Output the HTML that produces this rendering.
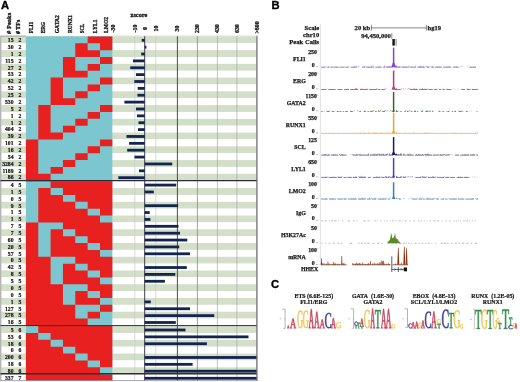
<!DOCTYPE html>
<html><head><meta charset="utf-8"><title>Figure</title>
<style>html,body{margin:0;padding:0;background:#fff;width:520px;height:382px;overflow:hidden}</style>
</head><body>
<svg width="520" height="382" viewBox="0 0 520 382" style="display:block;will-change:transform">
<rect width="520" height="382" fill="#fff"/>
<rect x="1.2" y="36.40" width="255.40" height="6.87" fill="#d4dfca"/>
<rect x="1.2" y="43.27" width="255.40" height="6.87" fill="#ffffff"/>
<rect x="1.2" y="50.14" width="255.40" height="6.87" fill="#d4dfca"/>
<rect x="1.2" y="57.01" width="255.40" height="6.87" fill="#ffffff"/>
<rect x="1.2" y="63.88" width="255.40" height="6.87" fill="#d4dfca"/>
<rect x="1.2" y="70.75" width="255.40" height="6.87" fill="#ffffff"/>
<rect x="1.2" y="77.62" width="255.40" height="6.87" fill="#d4dfca"/>
<rect x="1.2" y="84.49" width="255.40" height="6.87" fill="#ffffff"/>
<rect x="1.2" y="91.36" width="255.40" height="6.87" fill="#d4dfca"/>
<rect x="1.2" y="98.23" width="255.40" height="6.87" fill="#ffffff"/>
<rect x="1.2" y="105.10" width="255.40" height="6.87" fill="#d4dfca"/>
<rect x="1.2" y="111.97" width="255.40" height="6.87" fill="#ffffff"/>
<rect x="1.2" y="118.84" width="255.40" height="6.87" fill="#d4dfca"/>
<rect x="1.2" y="125.71" width="255.40" height="6.87" fill="#ffffff"/>
<rect x="1.2" y="132.58" width="255.40" height="6.87" fill="#d4dfca"/>
<rect x="1.2" y="139.45" width="255.40" height="6.87" fill="#ffffff"/>
<rect x="1.2" y="146.32" width="255.40" height="6.87" fill="#d4dfca"/>
<rect x="1.2" y="153.19" width="255.40" height="6.87" fill="#ffffff"/>
<rect x="1.2" y="160.06" width="255.40" height="6.87" fill="#d4dfca"/>
<rect x="1.2" y="166.93" width="255.40" height="6.87" fill="#ffffff"/>
<rect x="1.2" y="173.80" width="255.40" height="6.87" fill="#d4dfca"/>
<rect x="1.2" y="181.20" width="255.40" height="6.87" fill="#ffffff"/>
<rect x="1.2" y="188.07" width="255.40" height="6.87" fill="#d4dfca"/>
<rect x="1.2" y="194.94" width="255.40" height="6.87" fill="#ffffff"/>
<rect x="1.2" y="201.81" width="255.40" height="6.87" fill="#d4dfca"/>
<rect x="1.2" y="208.68" width="255.40" height="6.87" fill="#ffffff"/>
<rect x="1.2" y="215.55" width="255.40" height="6.87" fill="#d4dfca"/>
<rect x="1.2" y="222.42" width="255.40" height="6.87" fill="#ffffff"/>
<rect x="1.2" y="229.29" width="255.40" height="6.87" fill="#d4dfca"/>
<rect x="1.2" y="236.16" width="255.40" height="6.87" fill="#ffffff"/>
<rect x="1.2" y="243.03" width="255.40" height="6.87" fill="#d4dfca"/>
<rect x="1.2" y="249.90" width="255.40" height="6.87" fill="#ffffff"/>
<rect x="1.2" y="256.77" width="255.40" height="6.87" fill="#d4dfca"/>
<rect x="1.2" y="263.64" width="255.40" height="6.87" fill="#ffffff"/>
<rect x="1.2" y="270.51" width="255.40" height="6.87" fill="#d4dfca"/>
<rect x="1.2" y="277.38" width="255.40" height="6.87" fill="#ffffff"/>
<rect x="1.2" y="284.25" width="255.40" height="6.87" fill="#d4dfca"/>
<rect x="1.2" y="291.12" width="255.40" height="6.87" fill="#ffffff"/>
<rect x="1.2" y="297.99" width="255.40" height="6.87" fill="#d4dfca"/>
<rect x="1.2" y="304.86" width="255.40" height="6.87" fill="#ffffff"/>
<rect x="1.2" y="311.73" width="255.40" height="6.87" fill="#d4dfca"/>
<rect x="1.2" y="318.60" width="255.40" height="6.87" fill="#ffffff"/>
<rect x="1.2" y="326.10" width="255.40" height="6.87" fill="#d4dfca"/>
<rect x="1.2" y="332.97" width="255.40" height="6.87" fill="#ffffff"/>
<rect x="1.2" y="339.84" width="255.40" height="6.87" fill="#d4dfca"/>
<rect x="1.2" y="346.71" width="255.40" height="6.87" fill="#ffffff"/>
<rect x="1.2" y="353.58" width="255.40" height="6.87" fill="#d4dfca"/>
<rect x="1.2" y="360.45" width="255.40" height="6.87" fill="#ffffff"/>
<rect x="1.2" y="367.32" width="255.40" height="6.87" fill="#d4dfca"/>
<rect x="1.2" y="374.40" width="255.40" height="6.20" fill="#ffffff"/>
<rect x="25.9" y="36.3" width="86.45" height="344.50" fill="#7cc6d0"/>
<path d="M87.65,36.40h12.35v6.87h-12.35zM100.00,36.40h12.35v6.87h-12.35zM75.30,43.27h12.35v6.87h-12.35zM100.00,43.27h12.35v6.87h-12.35zM75.30,50.14h12.35v6.87h-12.35zM87.65,50.14h12.35v6.87h-12.35zM62.95,57.01h12.35v6.87h-12.35zM100.00,57.01h12.35v6.87h-12.35zM62.95,63.88h12.35v6.87h-12.35zM87.65,63.88h12.35v6.87h-12.35zM62.95,70.75h12.35v6.87h-12.35zM75.30,70.75h12.35v6.87h-12.35zM50.60,77.62h12.35v6.87h-12.35zM100.00,77.62h12.35v6.87h-12.35zM50.60,84.49h12.35v6.87h-12.35zM87.65,84.49h12.35v6.87h-12.35zM50.60,91.36h12.35v6.87h-12.35zM75.30,91.36h12.35v6.87h-12.35zM50.60,98.23h12.35v6.87h-12.35zM62.95,98.23h12.35v6.87h-12.35zM38.25,105.10h12.35v6.87h-12.35zM100.00,105.10h12.35v6.87h-12.35zM38.25,111.97h12.35v6.87h-12.35zM87.65,111.97h12.35v6.87h-12.35zM38.25,118.84h12.35v6.87h-12.35zM75.30,118.84h12.35v6.87h-12.35zM38.25,125.71h12.35v6.87h-12.35zM62.95,125.71h12.35v6.87h-12.35zM38.25,132.58h12.35v6.87h-12.35zM50.60,132.58h12.35v6.87h-12.35zM25.90,139.45h12.35v6.87h-12.35zM100.00,139.45h12.35v6.87h-12.35zM25.90,146.32h12.35v6.87h-12.35zM87.65,146.32h12.35v6.87h-12.35zM25.90,153.19h12.35v6.87h-12.35zM75.30,153.19h12.35v6.87h-12.35zM25.90,160.06h12.35v6.87h-12.35zM62.95,160.06h12.35v6.87h-12.35zM25.90,166.93h12.35v6.87h-12.35zM50.60,166.93h12.35v6.87h-12.35zM25.90,173.80h12.35v7.40h-12.35zM38.25,173.80h12.35v7.40h-12.35zM50.60,181.20h12.35v6.87h-12.35zM62.95,181.20h12.35v6.87h-12.35zM75.30,181.20h12.35v6.87h-12.35zM87.65,181.20h12.35v6.87h-12.35zM100.00,181.20h12.35v6.87h-12.35zM38.25,188.07h12.35v6.87h-12.35zM62.95,188.07h12.35v6.87h-12.35zM75.30,188.07h12.35v6.87h-12.35zM87.65,188.07h12.35v6.87h-12.35zM100.00,188.07h12.35v6.87h-12.35zM38.25,194.94h12.35v6.87h-12.35zM50.60,194.94h12.35v6.87h-12.35zM75.30,194.94h12.35v6.87h-12.35zM87.65,194.94h12.35v6.87h-12.35zM100.00,194.94h12.35v6.87h-12.35zM38.25,201.81h12.35v6.87h-12.35zM50.60,201.81h12.35v6.87h-12.35zM62.95,201.81h12.35v6.87h-12.35zM87.65,201.81h12.35v6.87h-12.35zM100.00,201.81h12.35v6.87h-12.35zM38.25,208.68h12.35v6.87h-12.35zM50.60,208.68h12.35v6.87h-12.35zM62.95,208.68h12.35v6.87h-12.35zM75.30,208.68h12.35v6.87h-12.35zM100.00,208.68h12.35v6.87h-12.35zM38.25,215.55h12.35v6.87h-12.35zM50.60,215.55h12.35v6.87h-12.35zM62.95,215.55h12.35v6.87h-12.35zM75.30,215.55h12.35v6.87h-12.35zM87.65,215.55h12.35v6.87h-12.35zM25.90,222.42h12.35v6.87h-12.35zM62.95,222.42h12.35v6.87h-12.35zM75.30,222.42h12.35v6.87h-12.35zM87.65,222.42h12.35v6.87h-12.35zM100.00,222.42h12.35v6.87h-12.35zM25.90,229.29h12.35v6.87h-12.35zM50.60,229.29h12.35v6.87h-12.35zM75.30,229.29h12.35v6.87h-12.35zM87.65,229.29h12.35v6.87h-12.35zM100.00,229.29h12.35v6.87h-12.35zM25.90,236.16h12.35v6.87h-12.35zM50.60,236.16h12.35v6.87h-12.35zM62.95,236.16h12.35v6.87h-12.35zM87.65,236.16h12.35v6.87h-12.35zM100.00,236.16h12.35v6.87h-12.35zM25.90,243.03h12.35v6.87h-12.35zM50.60,243.03h12.35v6.87h-12.35zM62.95,243.03h12.35v6.87h-12.35zM75.30,243.03h12.35v6.87h-12.35zM100.00,243.03h12.35v6.87h-12.35zM25.90,249.90h12.35v6.87h-12.35zM50.60,249.90h12.35v6.87h-12.35zM62.95,249.90h12.35v6.87h-12.35zM75.30,249.90h12.35v6.87h-12.35zM87.65,249.90h12.35v6.87h-12.35zM25.90,256.77h12.35v6.87h-12.35zM38.25,256.77h12.35v6.87h-12.35zM75.30,256.77h12.35v6.87h-12.35zM87.65,256.77h12.35v6.87h-12.35zM100.00,256.77h12.35v6.87h-12.35zM25.90,263.64h12.35v6.87h-12.35zM38.25,263.64h12.35v6.87h-12.35zM62.95,263.64h12.35v6.87h-12.35zM87.65,263.64h12.35v6.87h-12.35zM100.00,263.64h12.35v6.87h-12.35zM25.90,270.51h12.35v6.87h-12.35zM38.25,270.51h12.35v6.87h-12.35zM62.95,270.51h12.35v6.87h-12.35zM75.30,270.51h12.35v6.87h-12.35zM100.00,270.51h12.35v6.87h-12.35zM25.90,277.38h12.35v6.87h-12.35zM38.25,277.38h12.35v6.87h-12.35zM62.95,277.38h12.35v6.87h-12.35zM75.30,277.38h12.35v6.87h-12.35zM87.65,277.38h12.35v6.87h-12.35zM25.90,284.25h12.35v6.87h-12.35zM38.25,284.25h12.35v6.87h-12.35zM50.60,284.25h12.35v6.87h-12.35zM87.65,284.25h12.35v6.87h-12.35zM100.00,284.25h12.35v6.87h-12.35zM25.90,291.12h12.35v6.87h-12.35zM38.25,291.12h12.35v6.87h-12.35zM50.60,291.12h12.35v6.87h-12.35zM75.30,291.12h12.35v6.87h-12.35zM100.00,291.12h12.35v6.87h-12.35zM25.90,297.99h12.35v6.87h-12.35zM38.25,297.99h12.35v6.87h-12.35zM50.60,297.99h12.35v6.87h-12.35zM75.30,297.99h12.35v6.87h-12.35zM87.65,297.99h12.35v6.87h-12.35zM25.90,304.86h12.35v6.87h-12.35zM38.25,304.86h12.35v6.87h-12.35zM50.60,304.86h12.35v6.87h-12.35zM62.95,304.86h12.35v6.87h-12.35zM100.00,304.86h12.35v6.87h-12.35zM25.90,311.73h12.35v6.87h-12.35zM38.25,311.73h12.35v6.87h-12.35zM50.60,311.73h12.35v6.87h-12.35zM62.95,311.73h12.35v6.87h-12.35zM87.65,311.73h12.35v6.87h-12.35zM25.90,318.60h12.35v7.50h-12.35zM38.25,318.60h12.35v7.50h-12.35zM50.60,318.60h12.35v7.50h-12.35zM62.95,318.60h12.35v7.50h-12.35zM75.30,318.60h12.35v7.50h-12.35zM38.25,326.10h12.35v6.87h-12.35zM50.60,326.10h12.35v6.87h-12.35zM62.95,326.10h12.35v6.87h-12.35zM75.30,326.10h12.35v6.87h-12.35zM87.65,326.10h12.35v6.87h-12.35zM100.00,326.10h12.35v6.87h-12.35zM25.90,332.97h12.35v6.87h-12.35zM50.60,332.97h12.35v6.87h-12.35zM62.95,332.97h12.35v6.87h-12.35zM75.30,332.97h12.35v6.87h-12.35zM87.65,332.97h12.35v6.87h-12.35zM100.00,332.97h12.35v6.87h-12.35zM25.90,339.84h12.35v6.87h-12.35zM38.25,339.84h12.35v6.87h-12.35zM62.95,339.84h12.35v6.87h-12.35zM75.30,339.84h12.35v6.87h-12.35zM87.65,339.84h12.35v6.87h-12.35zM100.00,339.84h12.35v6.87h-12.35zM25.90,346.71h12.35v6.87h-12.35zM38.25,346.71h12.35v6.87h-12.35zM50.60,346.71h12.35v6.87h-12.35zM75.30,346.71h12.35v6.87h-12.35zM87.65,346.71h12.35v6.87h-12.35zM100.00,346.71h12.35v6.87h-12.35zM25.90,353.58h12.35v6.87h-12.35zM38.25,353.58h12.35v6.87h-12.35zM50.60,353.58h12.35v6.87h-12.35zM62.95,353.58h12.35v6.87h-12.35zM87.65,353.58h12.35v6.87h-12.35zM100.00,353.58h12.35v6.87h-12.35zM25.90,360.45h12.35v6.87h-12.35zM38.25,360.45h12.35v6.87h-12.35zM50.60,360.45h12.35v6.87h-12.35zM62.95,360.45h12.35v6.87h-12.35zM75.30,360.45h12.35v6.87h-12.35zM100.00,360.45h12.35v6.87h-12.35zM25.90,367.32h12.35v7.08h-12.35zM38.25,367.32h12.35v7.08h-12.35zM50.60,367.32h12.35v7.08h-12.35zM62.95,367.32h12.35v7.08h-12.35zM75.30,367.32h12.35v7.08h-12.35zM87.65,367.32h12.35v7.08h-12.35zM25.90,374.40h12.35v6.40h-12.35zM38.25,374.40h12.35v6.40h-12.35zM50.60,374.40h12.35v6.40h-12.35zM62.95,374.40h12.35v6.40h-12.35zM75.30,374.40h12.35v6.40h-12.35zM87.65,374.40h12.35v6.40h-12.35zM100.00,374.40h12.35v6.40h-12.35z" fill="#e8201f"/>
<line x1="134.8" y1="36" x2="134.8" y2="381" stroke="#c4c8d0" stroke-width="0.7"/>
<line x1="155.8" y1="36" x2="155.8" y2="381" stroke="#c4c8d0" stroke-width="0.7"/>
<line x1="177.4" y1="36" x2="177.4" y2="381" stroke="#3a3a3a" stroke-width="0.9"/>
<line x1="197.4" y1="36" x2="197.4" y2="381" stroke="#888c88" stroke-width="0.8"/>
<line x1="217.4" y1="36" x2="217.4" y2="381" stroke="#a0a4a0" stroke-width="0.65"/>
<line x1="236.9" y1="36" x2="236.9" y2="381" stroke="#a0a4a0" stroke-width="0.65"/>
<line x1="144.7" y1="36" x2="144.7" y2="381" stroke="#2a2a3a" stroke-width="0.9"/>
<line x1="256.90000000000003" y1="35.8" x2="256.90000000000003" y2="381" stroke="#808080" stroke-width="1.5"/>
<rect x="141.70" y="38.89" width="3.00" height="2.8" fill="#13244f"/>
<rect x="144.70" y="45.76" width="1.70" height="2.8" fill="#13244f"/>
<rect x="141.20" y="52.62" width="3.50" height="2.8" fill="#13244f"/>
<rect x="133.00" y="59.49" width="11.70" height="2.8" fill="#13244f"/>
<rect x="130.20" y="66.36" width="14.50" height="2.8" fill="#13244f"/>
<rect x="136.00" y="73.23" width="8.70" height="2.8" fill="#13244f"/>
<rect x="134.30" y="80.10" width="10.40" height="2.8" fill="#13244f"/>
<rect x="137.70" y="86.97" width="7.00" height="2.8" fill="#13244f"/>
<rect x="137.40" y="93.84" width="7.30" height="2.8" fill="#13244f"/>
<rect x="124.40" y="100.72" width="20.30" height="2.8" fill="#13244f"/>
<rect x="136.00" y="107.59" width="8.70" height="2.8" fill="#13244f"/>
<rect x="137.00" y="114.46" width="7.70" height="2.8" fill="#13244f"/>
<rect x="138.50" y="121.33" width="6.20" height="2.8" fill="#13244f"/>
<rect x="138.00" y="128.19" width="6.70" height="2.8" fill="#13244f"/>
<rect x="126.50" y="135.06" width="18.20" height="2.8" fill="#13244f"/>
<rect x="129.10" y="141.94" width="15.60" height="2.8" fill="#13244f"/>
<rect x="127.20" y="148.81" width="17.50" height="2.8" fill="#13244f"/>
<rect x="134.50" y="155.68" width="10.20" height="2.8" fill="#13244f"/>
<rect x="144.70" y="162.55" width="27.50" height="2.8" fill="#13244f"/>
<rect x="139.00" y="169.42" width="5.70" height="2.8" fill="#13244f"/>
<rect x="118.30" y="176.29" width="26.40" height="2.8" fill="#13244f"/>
<rect x="144.70" y="183.68" width="31.50" height="2.8" fill="#13244f"/>
<rect x="144.70" y="190.55" width="9.10" height="2.8" fill="#13244f"/>
<rect x="144.70" y="204.29" width="33.40" height="2.8" fill="#13244f"/>
<rect x="144.70" y="211.16" width="5.00" height="2.8" fill="#13244f"/>
<rect x="144.70" y="218.03" width="5.70" height="2.8" fill="#13244f"/>
<rect x="144.70" y="224.91" width="33.80" height="2.8" fill="#13244f"/>
<rect x="144.70" y="231.78" width="35.30" height="2.8" fill="#13244f"/>
<rect x="144.70" y="238.65" width="42.60" height="2.8" fill="#13244f"/>
<rect x="144.70" y="245.52" width="34.50" height="2.8" fill="#13244f"/>
<rect x="144.70" y="252.39" width="45.30" height="2.8" fill="#13244f"/>
<rect x="144.70" y="266.13" width="42.10" height="2.8" fill="#13244f"/>
<rect x="144.70" y="273.00" width="30.60" height="2.8" fill="#13244f"/>
<rect x="144.70" y="279.87" width="20.20" height="2.8" fill="#13244f"/>
<rect x="144.70" y="300.48" width="6.10" height="2.8" fill="#13244f"/>
<rect x="144.70" y="307.35" width="45.30" height="2.8" fill="#13244f"/>
<rect x="144.70" y="314.22" width="69.60" height="2.8" fill="#13244f"/>
<rect x="144.70" y="321.09" width="31.10" height="2.8" fill="#13244f"/>
<rect x="144.70" y="328.59" width="40.80" height="2.8" fill="#13244f"/>
<rect x="144.70" y="335.46" width="103.80" height="2.8" fill="#13244f"/>
<rect x="144.70" y="342.33" width="62.20" height="2.8" fill="#13244f"/>
<rect x="144.70" y="356.07" width="111.80" height="2.8" fill="#13244f"/>
<rect x="144.70" y="362.94" width="47.90" height="2.8" fill="#13244f"/>
<rect x="144.70" y="369.81" width="111.80" height="2.8" fill="#13244f"/>
<rect x="144.70" y="376.88" width="111.80" height="2.8" fill="#13244f"/>
<line x1="0" y1="36.1" x2="25.9" y2="36.1" stroke="#8f8f8f" stroke-width="0.9"/>
<line x1="112.35" y1="36.0" x2="257.20000000000005" y2="36.0" stroke="#c8ccc4" stroke-width="0.6"/>
<line x1="0.7" y1="36" x2="0.7" y2="381" stroke="#b4b4b4" stroke-width="1.4"/>
<line x1="0.5" y1="180.6" x2="256.6" y2="180.6" stroke="#2b2b3b" stroke-width="1.1"/>
<line x1="0.5" y1="325.6" x2="256.6" y2="325.6" stroke="#2b2b3b" stroke-width="1.0"/>
<line x1="0.5" y1="373.8" x2="256.6" y2="373.8" stroke="#2b2b3b" stroke-width="1.5"/>
<line x1="0.5" y1="380.6" x2="256.6" y2="380.6" stroke="#9090a0" stroke-width="0.8"/>
<g style="font-family:'Liberation Serif',serif;font-weight:bold;font-size:6.6px" fill="#141414" stroke="#141414" stroke-width="0.22">
<text transform="translate(13.5,42.09) scale(0.86,1)" text-anchor="end">15</text>
<text transform="translate(19.9,42.09) scale(0.86,1)" text-anchor="middle">2</text>
<text transform="translate(13.5,48.95) scale(0.86,1)" text-anchor="end">30</text>
<text transform="translate(19.9,48.95) scale(0.86,1)" text-anchor="middle">2</text>
<text transform="translate(13.5,55.82) scale(0.86,1)" text-anchor="end">1</text>
<text transform="translate(19.9,55.82) scale(0.86,1)" text-anchor="middle">2</text>
<text transform="translate(13.5,62.69) scale(0.86,1)" text-anchor="end">115</text>
<text transform="translate(19.9,62.69) scale(0.86,1)" text-anchor="middle">2</text>
<text transform="translate(13.5,69.56) scale(0.86,1)" text-anchor="end">27</text>
<text transform="translate(19.9,69.56) scale(0.86,1)" text-anchor="middle">2</text>
<text transform="translate(13.5,76.43) scale(0.86,1)" text-anchor="end">53</text>
<text transform="translate(19.9,76.43) scale(0.86,1)" text-anchor="middle">2</text>
<text transform="translate(13.5,83.30) scale(0.86,1)" text-anchor="end">42</text>
<text transform="translate(19.9,83.30) scale(0.86,1)" text-anchor="middle">2</text>
<text transform="translate(13.5,90.17) scale(0.86,1)" text-anchor="end">52</text>
<text transform="translate(19.9,90.17) scale(0.86,1)" text-anchor="middle">2</text>
<text transform="translate(13.5,97.05) scale(0.86,1)" text-anchor="end">25</text>
<text transform="translate(19.9,97.05) scale(0.86,1)" text-anchor="middle">2</text>
<text transform="translate(13.5,103.92) scale(0.86,1)" text-anchor="end">530</text>
<text transform="translate(19.9,103.92) scale(0.86,1)" text-anchor="middle">2</text>
<text transform="translate(13.5,110.79) scale(0.86,1)" text-anchor="end">5</text>
<text transform="translate(19.9,110.79) scale(0.86,1)" text-anchor="middle">2</text>
<text transform="translate(13.5,117.66) scale(0.86,1)" text-anchor="end">1</text>
<text transform="translate(19.9,117.66) scale(0.86,1)" text-anchor="middle">2</text>
<text transform="translate(13.5,124.53) scale(0.86,1)" text-anchor="end">1</text>
<text transform="translate(19.9,124.53) scale(0.86,1)" text-anchor="middle">2</text>
<text transform="translate(13.5,131.40) scale(0.86,1)" text-anchor="end">404</text>
<text transform="translate(19.9,131.40) scale(0.86,1)" text-anchor="middle">2</text>
<text transform="translate(13.5,138.27) scale(0.86,1)" text-anchor="end">39</text>
<text transform="translate(19.9,138.27) scale(0.86,1)" text-anchor="middle">2</text>
<text transform="translate(13.5,145.14) scale(0.86,1)" text-anchor="end">101</text>
<text transform="translate(19.9,145.14) scale(0.86,1)" text-anchor="middle">2</text>
<text transform="translate(13.5,152.01) scale(0.86,1)" text-anchor="end">16</text>
<text transform="translate(19.9,152.01) scale(0.86,1)" text-anchor="middle">2</text>
<text transform="translate(13.5,158.88) scale(0.86,1)" text-anchor="end">54</text>
<text transform="translate(19.9,158.88) scale(0.86,1)" text-anchor="middle">2</text>
<text transform="translate(13.5,165.75) scale(0.86,1)" text-anchor="end">3284</text>
<text transform="translate(19.9,165.75) scale(0.86,1)" text-anchor="middle">2</text>
<text transform="translate(13.5,172.62) scale(0.86,1)" text-anchor="end">1189</text>
<text transform="translate(19.9,172.62) scale(0.86,1)" text-anchor="middle">2</text>
<text transform="translate(13.5,179.49) scale(0.86,1)" text-anchor="end">86</text>
<text transform="translate(19.9,179.49) scale(0.86,1)" text-anchor="middle">2</text>
<text transform="translate(13.5,186.88) scale(0.86,1)" text-anchor="end">4</text>
<text transform="translate(19.9,186.88) scale(0.86,1)" text-anchor="middle">5</text>
<text transform="translate(13.5,193.75) scale(0.86,1)" text-anchor="end">1</text>
<text transform="translate(19.9,193.75) scale(0.86,1)" text-anchor="middle">5</text>
<text transform="translate(13.5,200.62) scale(0.86,1)" text-anchor="end">0</text>
<text transform="translate(19.9,200.62) scale(0.86,1)" text-anchor="middle">5</text>
<text transform="translate(13.5,207.50) scale(0.86,1)" text-anchor="end">9</text>
<text transform="translate(19.9,207.50) scale(0.86,1)" text-anchor="middle">5</text>
<text transform="translate(13.5,214.37) scale(0.86,1)" text-anchor="end">1</text>
<text transform="translate(19.9,214.37) scale(0.86,1)" text-anchor="middle">5</text>
<text transform="translate(13.5,221.24) scale(0.86,1)" text-anchor="end">1</text>
<text transform="translate(19.9,221.24) scale(0.86,1)" text-anchor="middle">5</text>
<text transform="translate(13.5,228.11) scale(0.86,1)" text-anchor="end">7</text>
<text transform="translate(19.9,228.11) scale(0.86,1)" text-anchor="middle">5</text>
<text transform="translate(13.5,234.98) scale(0.86,1)" text-anchor="end">7</text>
<text transform="translate(19.9,234.98) scale(0.86,1)" text-anchor="middle">5</text>
<text transform="translate(13.5,241.85) scale(0.86,1)" text-anchor="end">60</text>
<text transform="translate(19.9,241.85) scale(0.86,1)" text-anchor="middle">5</text>
<text transform="translate(13.5,248.72) scale(0.86,1)" text-anchor="end">20</text>
<text transform="translate(19.9,248.72) scale(0.86,1)" text-anchor="middle">5</text>
<text transform="translate(13.5,255.59) scale(0.86,1)" text-anchor="end">57</text>
<text transform="translate(19.9,255.59) scale(0.86,1)" text-anchor="middle">5</text>
<text transform="translate(13.5,262.46) scale(0.86,1)" text-anchor="end">0</text>
<text transform="translate(19.9,262.46) scale(0.86,1)" text-anchor="middle">5</text>
<text transform="translate(13.5,269.33) scale(0.86,1)" text-anchor="end">42</text>
<text transform="translate(19.9,269.33) scale(0.86,1)" text-anchor="middle">5</text>
<text transform="translate(13.5,276.20) scale(0.86,1)" text-anchor="end">8</text>
<text transform="translate(19.9,276.20) scale(0.86,1)" text-anchor="middle">5</text>
<text transform="translate(13.5,283.07) scale(0.86,1)" text-anchor="end">5</text>
<text transform="translate(19.9,283.07) scale(0.86,1)" text-anchor="middle">5</text>
<text transform="translate(13.5,289.94) scale(0.86,1)" text-anchor="end">0</text>
<text transform="translate(19.9,289.94) scale(0.86,1)" text-anchor="middle">5</text>
<text transform="translate(13.5,296.81) scale(0.86,1)" text-anchor="end">0</text>
<text transform="translate(19.9,296.81) scale(0.86,1)" text-anchor="middle">5</text>
<text transform="translate(13.5,303.68) scale(0.86,1)" text-anchor="end">1</text>
<text transform="translate(19.9,303.68) scale(0.86,1)" text-anchor="middle">5</text>
<text transform="translate(13.5,310.55) scale(0.86,1)" text-anchor="end">127</text>
<text transform="translate(19.9,310.55) scale(0.86,1)" text-anchor="middle">5</text>
<text transform="translate(13.5,317.42) scale(0.86,1)" text-anchor="end">278</text>
<text transform="translate(19.9,317.42) scale(0.86,1)" text-anchor="middle">5</text>
<text transform="translate(13.5,324.29) scale(0.86,1)" text-anchor="end">16</text>
<text transform="translate(19.9,324.29) scale(0.86,1)" text-anchor="middle">5</text>
<text transform="translate(13.5,331.79) scale(0.86,1)" text-anchor="end">5</text>
<text transform="translate(19.9,331.79) scale(0.86,1)" text-anchor="middle">6</text>
<text transform="translate(13.5,338.66) scale(0.86,1)" text-anchor="end">53</text>
<text transform="translate(19.9,338.66) scale(0.86,1)" text-anchor="middle">6</text>
<text transform="translate(13.5,345.53) scale(0.86,1)" text-anchor="end">18</text>
<text transform="translate(19.9,345.53) scale(0.86,1)" text-anchor="middle">6</text>
<text transform="translate(13.5,352.40) scale(0.86,1)" text-anchor="end">0</text>
<text transform="translate(19.9,352.40) scale(0.86,1)" text-anchor="middle">6</text>
<text transform="translate(13.5,359.27) scale(0.86,1)" text-anchor="end">200</text>
<text transform="translate(19.9,359.27) scale(0.86,1)" text-anchor="middle">6</text>
<text transform="translate(13.5,366.14) scale(0.86,1)" text-anchor="end">18</text>
<text transform="translate(19.9,366.14) scale(0.86,1)" text-anchor="middle">6</text>
<text transform="translate(13.5,373.01) scale(0.86,1)" text-anchor="end">80</text>
<text transform="translate(19.9,373.01) scale(0.86,1)" text-anchor="middle">6</text>
<text transform="translate(13.5,380.08) scale(0.86,1)" text-anchor="end">337</text>
<text transform="translate(19.9,380.08) scale(0.86,1)" text-anchor="middle">7</text>
</g>
<g style="font-family:'Liberation Serif',serif;font-weight:bold" fill="#141414" stroke="#141414" stroke-width="0.3">
<text transform="translate(10.50,34.00) rotate(-90)" style="font-size:6.1px" textLength="21.30" lengthAdjust="spacingAndGlyphs"># Peaks</text>
<text transform="translate(20.20,34.00) rotate(-90)" style="font-size:6.1px" textLength="14.20" lengthAdjust="spacingAndGlyphs"># TFs</text>
<text transform="translate(33.20,33.30) rotate(-90)" style="font-size:6.1px" textLength="11.40" lengthAdjust="spacingAndGlyphs">FLI1</text>
<text transform="translate(45.30,33.30) rotate(-90)" style="font-size:6.1px" textLength="11.40" lengthAdjust="spacingAndGlyphs">ERG</text>
<text transform="translate(58.50,33.30) rotate(-90)" style="font-size:6.1px" textLength="18.20" lengthAdjust="spacingAndGlyphs">GATA2</text>
<text transform="translate(72.20,33.00) rotate(-90)" style="font-size:6.1px" textLength="17.90" lengthAdjust="spacingAndGlyphs">RUNX1</text>
<text transform="translate(83.50,33.20) rotate(-90)" style="font-size:6.1px" textLength="9.40" lengthAdjust="spacingAndGlyphs">SCL</text>
<text transform="translate(96.60,33.20) rotate(-90)" style="font-size:6.1px" textLength="13.70" lengthAdjust="spacingAndGlyphs">LYL1</text>
<text transform="translate(107.80,33.00) rotate(-90)" style="font-size:6.1px" textLength="16.00" lengthAdjust="spacingAndGlyphs">LMO2</text>
<text transform="translate(115.40,28.60) rotate(-90)" text-anchor="middle" style="font-size:5.9px" >-30</text>
<text transform="translate(136.80,28.60) rotate(-90)" text-anchor="middle" style="font-size:5.9px" >-10</text>
<text transform="translate(146.70,28.60) rotate(-90)" text-anchor="middle" style="font-size:5.9px" >0</text>
<text transform="translate(157.80,28.60) rotate(-90)" text-anchor="middle" style="font-size:5.9px" >10</text>
<text transform="translate(179.30,28.60) rotate(-90)" text-anchor="middle" style="font-size:5.9px" >30</text>
<text transform="translate(199.00,28.60) rotate(-90)" text-anchor="middle" style="font-size:5.9px" >230</text>
<text transform="translate(219.30,28.60) rotate(-90)" text-anchor="middle" style="font-size:5.9px" >430</text>
<text transform="translate(239.00,28.60) rotate(-90)" text-anchor="middle" style="font-size:5.9px" >630</text>
<text transform="translate(258.50,27.40) rotate(-90)" text-anchor="middle" style="font-size:5.9px" >&gt;800</text>
<text x="130.6" y="17.2" style="font-size:6.3px">zscore</text>
</g>
<text x="1.0" y="8.8" style="font-family:'Liberation Sans',sans-serif;font-weight:bold;font-size:11.2px" fill="#000" stroke="#000" stroke-width="0.35">A</text>
<text x="271.5" y="9.0" style="font-family:'Liberation Sans',sans-serif;font-weight:bold;font-size:11.2px" fill="#000" stroke="#000" stroke-width="0.35">B</text>
<g style="font-family:'Liberation Serif',serif;font-weight:bold;font-size:6.6px" fill="#1a1a1a" stroke="#1a1a1a" stroke-width="0.25">
<text x="319.2" y="29.6" text-anchor="end">Scale</text>
<text x="319.2" y="37.3" text-anchor="end">chr10</text>
<text x="319.2" y="43.8" text-anchor="end">Peak Calls</text>
<text x="370.2" y="29.6" text-anchor="end">20 kb</text>
<text x="427.6" y="29.6">hg19</text>
<text x="390.9" y="37.8" text-anchor="end">94,450,000</text>
</g>
<g stroke="#333" stroke-width="0.6" fill="none">
<line x1="371.4" y1="27.9" x2="426.3" y2="27.9"/><line x1="371.4" y1="24.8" x2="371.4" y2="30.6"/><line x1="426.3" y1="24.8" x2="426.3" y2="30.6"/>
<line x1="391.8" y1="33" x2="391.8" y2="38.7"/>
<line x1="396.1" y1="39.0" x2="396.1" y2="45.6"/>
</g>
<rect x="392.4" y="39.0" width="2.4" height="6.6" fill="#111"/>
<line x1="320.4" y1="23.8" x2="320.4" y2="265" stroke="#dcd8e0" stroke-width="0.8"/>
<g style="font-family:'Liberation Serif',serif;font-weight:bold;font-size:5.9px" fill="#1a1a1a" stroke="#1a1a1a" stroke-width="0.25">
<text x="317.0" y="53.80" text-anchor="end">250</text>
<text x="305.8" y="60.90" text-anchor="end">FLI1</text>
<text x="314.8" y="66.70" text-anchor="end">0</text>
<text x="317.0" y="76.10" text-anchor="end">200</text>
<text x="305.8" y="83.20" text-anchor="end">ERG</text>
<text x="314.8" y="89.00" text-anchor="end">0</text>
<text x="317.0" y="98.10" text-anchor="end">1150</text>
<text x="305.8" y="105.20" text-anchor="end">GATA2</text>
<text x="314.8" y="111.00" text-anchor="end">0</text>
<text x="317.0" y="120.05" text-anchor="end">550</text>
<text x="305.8" y="127.15" text-anchor="end">RUNX1</text>
<text x="314.8" y="132.95" text-anchor="end">0</text>
<text x="317.0" y="141.70" text-anchor="end">125</text>
<text x="305.8" y="148.80" text-anchor="end">SCL</text>
<text x="314.8" y="154.60" text-anchor="end">0</text>
<text x="317.0" y="164.05" text-anchor="end">650</text>
<text x="305.8" y="171.15" text-anchor="end">LYL1</text>
<text x="314.8" y="176.95" text-anchor="end">0</text>
<text x="317.0" y="185.70" text-anchor="end">100</text>
<text x="305.8" y="192.80" text-anchor="end">LMO2</text>
<text x="314.8" y="198.60" text-anchor="end">0</text>
<text x="317.0" y="207.50" text-anchor="end">50</text>
<text x="305.8" y="214.60" text-anchor="end">IgG</text>
<text x="314.8" y="220.40" text-anchor="end">0</text>
<text x="317.0" y="229.85" text-anchor="end">50</text>
<text x="305.8" y="236.95" text-anchor="end">H3K27Ac</text>
<text x="314.8" y="242.75" text-anchor="end">0</text>
<text x="317.0" y="251.60" text-anchor="end">100</text>
<text x="305.8" y="258.70" text-anchor="end">mRNA</text>
<text x="314.8" y="264.50" text-anchor="end">0</text>
<text x="318.3" y="270.8" text-anchor="end">HHEX</text>
</g>
<g stroke="#666" stroke-width="0.4">
<line x1="316.0" y1="66.60" x2="318.4" y2="66.60"/>
<line x1="317.4" y1="50.80" x2="318.6" y2="50.80"/>
<line x1="316.0" y1="88.90" x2="318.4" y2="88.90"/>
<line x1="317.4" y1="73.10" x2="318.6" y2="73.10"/>
<line x1="316.0" y1="110.90" x2="318.4" y2="110.90"/>
<line x1="317.4" y1="95.10" x2="318.6" y2="95.10"/>
<line x1="316.0" y1="132.85" x2="318.4" y2="132.85"/>
<line x1="317.4" y1="117.05" x2="318.6" y2="117.05"/>
<line x1="316.0" y1="154.50" x2="318.4" y2="154.50"/>
<line x1="317.4" y1="138.70" x2="318.6" y2="138.70"/>
<line x1="316.0" y1="176.85" x2="318.4" y2="176.85"/>
<line x1="317.4" y1="161.05" x2="318.6" y2="161.05"/>
<line x1="316.0" y1="198.50" x2="318.4" y2="198.50"/>
<line x1="317.4" y1="182.70" x2="318.6" y2="182.70"/>
<line x1="316.0" y1="220.30" x2="318.4" y2="220.30"/>
<line x1="317.4" y1="204.50" x2="318.6" y2="204.50"/>
<line x1="316.0" y1="242.65" x2="318.4" y2="242.65"/>
<line x1="317.4" y1="226.85" x2="318.6" y2="226.85"/>
<line x1="316.0" y1="264.40" x2="318.4" y2="264.40"/>
<line x1="317.4" y1="248.60" x2="318.6" y2="248.60"/>
</g>
<path d="M321.3,67.20H325.6M327.1,67.20H329.6M330.7,67.20H333.1M333.8,67.20H338.8M339.5,67.20H344.5M345.3,67.20H348.8M350.8,67.20H356.8M362.1,67.20H365.1M366.1,67.20H373.8M375.3,67.20H381.7M383.1,67.20H385.5M386.4,67.20H393.2M394.2,67.20H400.3M401.3,67.20H408.9M409.9,67.20H415.9M417.7,67.20H424.8M426.8,67.20H429.6M431.3,67.20H434.3M435.0,67.20H441.7M443.1,67.20H451.2M452.8,67.20H458.9M469.3,67.20H476.0" stroke="#6e6482" stroke-width="0.9" fill="none" opacity="0.85"/>
<path d="M323.3,67.10V66.50M326.1,67.10V66.41M328.7,67.10V66.32M331.4,67.10V66.30M333.7,67.10V66.32M336.4,67.10V66.30M345.4,67.10V66.59M347.9,67.10V66.48M349.7,67.10V66.54M354.1,67.10V65.85M356.5,67.10V65.82M358.0,67.10V66.46M359.0,67.10V66.09M364.3,67.10V66.52M365.1,67.10V65.70M368.3,67.10V66.54M372.0,67.10V65.51M373.7,67.10V66.33M379.2,67.10V65.58M384.5,67.10V65.53M386.8,67.10V65.99M388.1,67.10V66.51M389.2,67.10V65.86M391.0,67.10V65.85M394.6,67.10V65.52M396.9,67.10V65.81M399.2,67.10V65.92M400.4,67.10V66.27M404.0,67.10V65.99M406.5,67.10V66.38M409.0,67.10V65.52M411.5,67.10V66.52M415.8,67.10V65.66M418.1,67.10V66.33M420.1,67.10V65.82M421.0,67.10V66.04M423.5,67.10V65.85M425.6,67.10V66.34M426.7,67.10V65.84M428.1,67.10V65.82M430.7,67.10V66.47M432.2,67.10V65.59M437.8,67.10V66.37M438.8,67.10V66.36M441.4,67.10V66.51M446.4,67.10V66.52M448.2,67.10V66.26M449.7,67.10V66.32M454.5,67.10V66.57M456.8,67.10V66.28M460.1,67.10V66.29M461.7,67.10V66.27M467.5,67.10V66.38M470.7,67.10V66.60M473.9,67.10V66.39M474.9,67.10V66.60" stroke="#8446cc" stroke-width="0.6" fill="none" opacity="0.8"/>
<rect x="392.85" y="47.70" width="1.5" height="19.40" fill="#8446cc"/>
<path d="M391.40,67.10 L392.90,62.60 L394.30,62.60 L396.10,67.10Z" fill="#8446cc"/>
<path d="M395.9,67.10L396.4,65.30L397.0,67.10Z" fill="#8446cc"/>
<path d="M321.3,89.50H326.3M328.2,89.50H335.7M337.3,89.50H342.4M344.1,89.50H348.9M350.3,89.50H358.0M360.0,89.50H367.7M369.2,89.50H376.9M377.9,89.50H380.6M381.5,89.50H385.0M394.4,89.50H400.7M410.1,89.50H417.8M419.3,89.50H427.3M428.3,89.50H432.9M434.2,89.50H437.3M439.1,89.50H441.3M442.7,89.50H444.8M446.5,89.50H451.5M461.4,89.50H465.0M466.9,89.50H470.5M471.9,89.50H478.0" stroke="#6a5a66" stroke-width="0.9" fill="none" opacity="0.85"/>
<path d="M324.3,89.40V88.89M327.2,89.40V88.78M331.3,89.40V88.83M348.0,89.40V88.72M352.1,89.40V88.74M355.5,89.40V87.90M356.5,89.40V88.09M358.1,89.40V88.61M360.4,89.40V88.77M362.1,89.40V88.30M364.7,89.40V88.85M367.0,89.40V88.27M368.9,89.40V88.75M376.9,89.40V88.01M385.9,89.40V87.84M393.2,89.40V88.64M401.4,89.40V88.46M403.2,89.40V88.20M405.2,89.40V88.25M407.5,89.40V88.78M408.9,89.40V87.82M410.0,89.40V88.24M414.3,89.40V87.97M416.2,89.40V88.23M420.2,89.40V88.59M422.5,89.40V88.11M424.8,89.40V88.47M427.2,89.40V88.31M433.8,89.40V88.90M435.8,89.40V88.84M438.6,89.40V88.68M442.5,89.40V88.81M443.4,89.40V88.74M446.0,89.40V88.74M447.1,89.40V88.73M453.2,89.40V88.71M455.1,89.40V88.82M457.3,89.40V88.73M458.7,89.40V88.89M460.8,89.40V88.80M462.8,89.40V88.79M466.8,89.40V88.60M468.0,89.40V88.52M472.1,89.40V88.66" stroke="#b83a7e" stroke-width="0.6" fill="none" opacity="0.8"/>
<rect x="392.85" y="70.50" width="1.5" height="18.90" fill="#b83a7e"/>
<path d="M391.60,89.40 L392.90,86.40 L394.30,86.40 L395.90,89.40Z" fill="#b83a7e"/>
<path d="M395.9,89.40L396.4,87.60L397.0,89.40Z" fill="#b83a7e"/>
<path d="M321.3,111.50H322.6M326.7,111.50H329.3M331.8,111.50H334.2M336.8,111.50H338.7M339.5,111.50H341.3M342.7,111.50H343.9M345.3,111.50H347.9M350.2,111.50H352.9M359.3,111.50H360.9M363.7,111.50H365.8M367.5,111.50H368.9M369.9,111.50H372.5M375.2,111.50H376.5M378.3,111.50H379.6M382.3,111.50H385.0M391.8,111.50H394.2M396.4,111.50H398.2M400.3,111.50H401.7M404.4,111.50H405.5M407.0,111.50H408.4M411.2,111.50H412.5M413.9,111.50H416.0M417.1,111.50H418.3M420.9,111.50H422.8M425.4,111.50H428.4M429.5,111.50H430.7M432.2,111.50H433.2M438.8,111.50H440.5M442.4,111.50H444.0M447.4,111.50H449.3M451.8,111.50H453.1M454.4,111.50H456.1M458.8,111.50H461.5M462.3,111.50H463.2M465.8,111.50H467.6M476.5,111.50H477.5" stroke="#5e625e" stroke-width="0.9" fill="none" opacity="0.85"/>
<path d="M321.8,111.40V110.79M324.3,111.40V110.75M326.3,111.40V110.71M328.8,111.40V110.70M330.0,111.40V110.57M334.9,111.40V110.77M337.7,111.40V110.88M344.9,111.40V110.82M351.0,111.40V110.77M354.1,111.40V110.32M357.7,111.40V109.92M360.3,111.40V110.73M364.5,111.40V110.22M372.3,111.40V110.18M373.6,111.40V109.88M376.5,111.40V110.73M378.5,111.40V109.88M379.6,111.40V110.77M380.7,111.40V109.84M382.7,111.40V110.77M385.1,111.40V109.99M387.2,111.40V109.80M389.7,111.40V110.87M390.8,111.40V109.90M395.0,111.40V110.79M396.5,111.40V110.87M398.9,111.40V110.84M405.4,111.40V110.09M407.6,111.40V110.71M408.5,111.40V110.64M410.0,111.40V109.93M411.1,111.40V110.82M415.1,111.40V110.10M422.7,111.40V109.96M426.7,111.40V110.41M428.0,111.40V110.25M430.1,111.40V110.19M432.6,111.40V110.39M438.8,111.40V110.54M446.6,111.40V110.74M448.9,111.40V110.70M455.5,111.40V110.72M459.0,111.40V110.52M461.4,111.40V110.51M468.9,111.40V110.79M471.0,111.40V110.64" stroke="#2f662f" stroke-width="0.6" fill="none" opacity="0.8"/>
<rect x="392.85" y="92.00" width="1.5" height="19.40" fill="#2f662f"/>
<path d="M392.70,111.40 L392.90,109.90 L394.30,109.90 L394.80,111.40Z" fill="#2f662f"/>
<path d="M395.9,111.40L396.4,109.60L397.0,111.40Z" fill="#2f662f"/>
<path d="M321.3,133.45H357.3M357.5,133.45H392.1M392.5,133.45H432.3M432.8,133.45H478.0" stroke="#e6b84e" stroke-width="0.9" fill="none" opacity="0.85"/>
<path d="M321.8,133.35V132.76M326.0,133.35V132.61M328.4,133.35V132.53M332.8,133.35V132.83M338.9,133.35V132.65M343.3,133.35V132.79M346.8,133.35V132.81M355.2,133.35V132.47M357.6,133.35V132.47M360.6,133.35V132.24M363.5,133.35V131.82M364.9,133.35V132.44M366.3,133.35V132.68M368.7,133.35V131.76M373.1,133.35V131.91M374.6,133.35V132.04M376.2,133.35V131.94M378.6,133.35V132.47M380.6,133.35V131.89M381.5,133.35V132.35M383.0,133.35V132.54M385.8,133.35V131.87M386.8,133.35V132.57M389.1,133.35V131.80M392.7,133.35V131.79M396.8,133.35V132.73M399.3,133.35V132.36M405.3,133.35V132.00M408.8,133.35V132.71M410.5,133.35V132.74M413.6,133.35V131.91M414.5,133.35V132.45M420.9,133.35V132.47M424.4,133.35V132.42M425.9,133.35V132.30M427.5,133.35V132.65M428.4,133.35V132.36M432.2,133.35V132.10M443.3,133.35V132.65M451.6,133.35V132.45M453.7,133.35V132.62M454.8,133.35V132.47M456.5,133.35V132.49M461.2,133.35V132.51M470.6,133.35V132.52M475.5,133.35V132.51M477.5,133.35V132.54" stroke="#eca43a" stroke-width="0.6" fill="none" opacity="0.8"/>
<rect x="392.85" y="112.75" width="1.5" height="20.60" fill="#eca43a"/>
<path d="M392.10,133.35 L392.90,130.85 L394.30,130.85 L395.40,133.35Z" fill="#eca43a"/>
<path d="M395.9,133.35L396.4,131.55L397.0,133.35Z" fill="#eca43a"/>
<path d="M321.3,155.10H329.8M330.8,155.10H338.3M339.7,155.10H346.5M352.8,155.10H358.5M359.3,155.10H369.2M370.1,155.10H378.5M379.1,155.10H387.3M388.7,155.10H393.4M394.9,155.10H402.0M402.8,155.10H405.8M406.5,155.10H413.8M414.8,155.10H424.1M424.8,155.10H432.4M432.9,155.10H438.4M439.2,155.10H443.8M444.9,155.10H449.3M455.0,155.10H459.0M460.2,155.10H469.3M470.2,155.10H475.0M476.2,155.10H478.0" stroke="#44445e" stroke-width="0.9" fill="none" opacity="0.85"/>
<path d="M324.3,155.00V154.34M325.5,155.00V154.19M328.8,155.00V154.30M333.3,155.00V154.45M335.0,155.00V154.42M339.5,155.00V154.20M341.8,155.00V154.36M342.6,155.00V154.24M350.7,155.00V154.33M352.7,155.00V154.24M356.6,155.00V154.30M358.8,155.00V154.16M360.1,155.00V153.97M368.4,155.00V153.49M370.6,155.00V154.48M373.0,155.00V154.47M374.2,155.00V153.55M376.1,155.00V153.89M378.1,155.00V153.43M379.8,155.00V153.66M381.8,155.00V153.63M383.4,155.00V153.84M386.4,155.00V154.00M387.4,155.00V153.54M389.4,155.00V153.51M393.7,155.00V153.99M395.8,155.00V153.82M396.7,155.00V154.06M398.2,155.00V153.69M400.4,155.00V153.57M401.3,155.00V153.61M403.8,155.00V153.49M408.1,155.00V153.70M410.1,155.00V153.68M416.5,155.00V154.32M418.7,155.00V153.85M420.1,155.00V154.49M422.7,155.00V154.19M425.0,155.00V154.01M425.8,155.00V154.34M427.4,155.00V153.76M428.8,155.00V153.87M438.2,155.00V154.12M440.7,155.00V154.28M443.3,155.00V154.25M444.5,155.00V154.15M448.9,155.00V154.43M449.9,155.00V154.29M451.9,155.00V154.29M465.2,155.00V154.20M468.2,155.00V154.32M470.4,155.00V154.42M472.9,155.00V154.24M474.9,155.00V154.33" stroke="#1c1c5c" stroke-width="0.6" fill="none" opacity="0.8"/>
<rect x="392.85" y="137.10" width="1.5" height="17.90" fill="#1c1c5c"/>
<path d="M391.60,155.00 L392.90,152.00 L394.30,152.00 L395.90,155.00Z" fill="#1c1c5c"/>
<path d="M395.9,155.00L396.4,153.20L397.0,155.00Z" fill="#1c1c5c"/>
<path d="M321.3,177.45H327.4M328.6,177.45H336.8M337.7,177.45H341.8M343.6,177.45H346.6M347.6,177.45H351.9M352.7,177.45H357.0M359.0,177.45H366.1M368.0,177.45H370.7M372.7,177.45H380.3M381.5,177.45H384.8M385.6,177.45H389.0M389.7,177.45H394.5M396.0,177.45H401.6M402.8,177.45H405.8M415.3,177.45H421.4M422.6,177.45H426.2M428.0,177.45H435.4M437.2,177.45H444.0M445.2,177.45H449.4M450.1,177.45H455.1M456.7,177.45H463.1M464.3,177.45H469.4" stroke="#5a5a8c" stroke-width="0.9" fill="none" opacity="0.85"/>
<path d="M321.8,177.35V176.76M325.7,177.35V176.47M327.6,177.35V176.65M331.1,177.35V176.83M332.9,177.35V176.70M334.6,177.35V176.77M338.4,177.35V176.50M339.6,177.35V176.73M341.1,177.35V176.66M342.1,177.35V176.46M347.3,177.35V176.72M349.9,177.35V176.68M353.6,177.35V176.63M356.1,177.35V176.11M358.4,177.35V176.34M360.0,177.35V176.45M361.2,177.35V175.81M362.7,177.35V176.33M364.9,177.35V176.04M370.7,177.35V176.78M376.9,177.35V176.20M379.5,177.35V176.58M381.1,177.35V176.33M383.1,177.35V176.77M385.5,177.35V175.98M386.4,177.35V176.03M388.9,177.35V176.10M389.9,177.35V176.02M392.7,177.35V175.83M396.9,177.35V176.11M400.7,177.35V176.08M401.8,177.35V175.92M403.7,177.35V176.10M405.7,177.35V175.92M407.9,177.35V176.01M409.1,177.35V176.24M410.8,177.35V176.16M412.4,177.35V175.94M420.5,177.35V176.55M422.2,177.35V175.97M423.0,177.35V176.00M424.7,177.35V176.45M426.7,177.35V176.01M428.2,177.35V176.68M432.6,177.35V176.33M433.5,177.35V176.37M435.5,177.35V176.51M436.9,177.35V176.47M443.1,177.35V176.79M444.6,177.35V176.57M447.8,177.35V176.66M458.5,177.35V176.47M460.5,177.35V176.64M463.2,177.35V176.82M465.1,177.35V176.64M466.0,177.35V176.70M472.6,177.35V176.80M474.6,177.35V176.64M477.0,177.35V176.80" stroke="#4646b8" stroke-width="0.6" fill="none" opacity="0.8"/>
<rect x="392.85" y="158.05" width="1.5" height="19.30" fill="#4646b8"/>
<path d="M392.40,177.35 L392.90,175.55 L394.30,175.55 L395.10,177.35Z" fill="#4646b8"/>
<path d="M395.9,177.35L396.4,175.55L397.0,177.35Z" fill="#4646b8"/>
<path d="M321.3,199.10H327.7M329.1,199.10H335.9M337.4,199.10H342.6M343.4,199.10H346.6M348.3,199.10H356.7M357.8,199.10H365.6M367.0,199.10H370.8M372.0,199.10H376.2M377.7,199.10H386.2M387.6,199.10H389.9M398.9,199.10H401.0M412.3,199.10H417.1M418.6,199.10H422.1M422.8,199.10H424.8M425.6,199.10H434.3M436.1,199.10H439.0M440.7,199.10H444.3M445.2,199.10H447.6M449.2,199.10H457.1M457.9,199.10H464.3M465.5,199.10H474.0M476.0,199.10H478.0" stroke="#4a78a8" stroke-width="0.9" fill="none" opacity="0.85"/>
<path d="M321.8,199.00V198.41M325.4,199.00V198.34M326.5,199.00V198.23M329.7,199.00V198.48M331.3,199.00V198.39M332.3,199.00V198.28M333.8,199.00V198.42M337.2,199.00V198.29M339.7,199.00V198.29M342.4,199.00V198.12M344.5,199.00V198.26M345.9,199.00V198.45M348.5,199.00V198.25M351.9,199.00V198.20M353.4,199.00V198.38M355.3,199.00V197.57M359.9,199.00V198.06M362.2,199.00V197.58M363.0,199.00V197.67M365.3,199.00V197.61M369.5,199.00V197.71M371.5,199.00V197.54M374.7,199.00V197.72M375.9,199.00V197.80M380.2,199.00V197.92M383.1,199.00V197.80M385.4,199.00V198.26M386.3,199.00V197.71M390.3,199.00V197.56M392.7,199.00V198.17M394.4,199.00V198.06M396.7,199.00V197.88M398.1,199.00V198.10M399.6,199.00V198.17M403.3,199.00V198.40M404.3,199.00V197.99M408.4,199.00V198.45M411.0,199.00V197.42M413.3,199.00V198.22M417.4,199.00V198.32M419.9,199.00V197.77M422.1,199.00V197.46M427.3,199.00V197.61M428.9,199.00V197.48M433.3,199.00V198.36M434.3,199.00V198.14M435.5,199.00V198.49M437.5,199.00V198.14M443.6,199.00V198.11M448.5,199.00V198.19M453.0,199.00V198.36M455.0,199.00V198.11M458.1,199.00V198.15M462.0,199.00V198.32M472.1,199.00V198.17M473.3,199.00V198.16M475.6,199.00V198.20M477.7,199.00V198.16" stroke="#3f7fb5" stroke-width="0.6" fill="none" opacity="0.8"/>
<rect x="392.85" y="182.30" width="1.5" height="16.70" fill="#3f7fb5"/>
<path d="M392.00,199.00 L392.90,196.50 L394.30,196.50 L395.50,199.00Z" fill="#3f7fb5"/>
<path d="M395.9,199.00L396.4,197.20L397.0,199.00Z" fill="#3f7fb5"/>
<path d="M321.3,220.90H323.2M324.7,220.90H326.9M329.1,220.90H330.1M331.1,220.90H333.1M334.2,220.90H336.5M338.2,220.90H339.2M341.9,220.90H343.3M347.5,220.90H350.0M352.8,220.90H354.7M356.6,220.90H357.8M363.5,220.90H365.9M367.3,220.90H369.6M374.2,220.90H376.3M377.4,220.90H378.2M380.2,220.90H381.3M384.1,220.90H385.3M386.4,220.90H387.5M389.9,220.90H391.0M392.0,220.90H393.8M395.2,220.90H396.4M398.7,220.90H400.9M402.2,220.90H403.1M404.8,220.90H406.8M409.4,220.90H410.8M413.5,220.90H415.1M417.9,220.90H419.5M420.9,220.90H422.0M423.6,220.90H424.7M426.8,220.90H427.6M429.4,220.90H431.1M433.4,220.90H435.6M437.1,220.90H439.2M441.6,220.90H442.5M445.4,220.90H447.0M449.0,220.90H450.7M453.7,220.90H454.8M455.9,220.90H457.1M458.0,220.90H458.9M460.1,220.90H461.0M463.0,220.90H464.7M465.8,220.90H468.0M468.9,220.90H469.9M471.8,220.90H473.1M474.8,220.90H475.9" stroke="#a8a8a8" stroke-width="0.9" fill="none" opacity="0.85"/>
<path d="M321.3,243.25H322.4M324.8,243.25H325.9M328.7,243.25H330.2M332.8,243.25H334.5M337.4,243.25H339.5M340.9,243.25H342.2M349.9,243.25H352.2M357.9,243.25H359.4M361.0,243.25H362.7M364.5,243.25H366.1M367.2,243.25H369.7M372.6,243.25H374.4M377.2,243.25H379.5M381.7,243.25H382.9M388.2,243.25H389.5M391.2,243.25H393.6M395.1,243.25H397.0M399.1,243.25H401.5M402.9,243.25H404.5M405.6,243.25H406.7M408.1,243.25H409.6M410.9,243.25H411.9M414.5,243.25H416.4M418.6,243.25H419.7M421.5,243.25H423.3M425.1,243.25H426.4M427.7,243.25H429.4M431.5,243.25H432.3M435.0,243.25H436.2M440.8,243.25H442.9M443.9,243.25H446.2M447.1,243.25H448.6M451.0,243.25H452.0M454.9,243.25H456.9M458.5,243.25H459.9M462.0,243.25H464.3M466.2,243.25H468.3M470.7,243.25H472.3M474.7,243.25H477.1" stroke="#9aa0b0" stroke-width="0.9" fill="none" opacity="0.85"/>
<path d="M386.8,243.3 L388.5,241.3 L390,239.8 L390.8,235.3 L391.4,232.8 L392.1,237.8 L393,238.3 L394.3,236.3 L395,232.8 L395.8,238.3 L397.2,238.8 L398.5,240.8 L400.6,243.3Z" fill="#5a8a2a"/>
<line x1="320.8" y1="264.80" x2="346.5" y2="264.80" stroke="#6a3a20" stroke-width="0.8"/>
<line x1="352.4" y1="264.80" x2="390.5" y2="264.80" stroke="#6a3a20" stroke-width="0.8"/>
<line x1="392.5" y1="264.80" x2="408" y2="264.80" stroke="#7a3a1a" stroke-width="0.8"/>
<path d="M320.85,264.80L321.10,258.30L321.70,258.30L321.95,264.80ZM341.25,264.80L341.50,256.00L342.10,256.00L342.35,264.80ZM321.69,264.80L321.90,263.04L322.50,263.04L322.71,264.80ZM323.43,264.80L323.63,263.01L324.23,263.01L324.43,264.80ZM326.00,264.80L326.20,263.39L326.80,263.39L327.00,264.80ZM327.55,264.80L327.67,261.55L328.27,261.55L328.39,264.80ZM328.58,264.80L328.84,263.61L329.44,263.61L329.70,264.80ZM331.40,264.80L331.70,263.64L332.30,263.64L332.60,264.80ZM333.25,264.80L333.47,261.76L334.07,261.76L334.29,264.80ZM334.30,264.80L334.51,263.71L335.11,263.71L335.32,264.80ZM335.32,264.80L335.46,263.26L336.06,263.26L336.21,264.80ZM337.01,264.80L337.20,263.71L337.80,263.71L337.99,264.80ZM338.63,264.80L338.86,263.64L339.46,263.64L339.69,264.80ZM342.31,264.80L342.50,263.47L343.10,263.47L343.29,264.80ZM343.35,264.80L343.65,263.00L344.25,263.00L344.55,264.80ZM352.34,264.80L352.50,263.12L353.10,263.12L353.26,264.80ZM353.49,264.80L353.61,263.76L354.21,263.76L354.32,264.80ZM354.93,264.80L355.20,263.60L355.80,263.60L356.07,264.80ZM356.17,264.80L356.44,262.68L357.04,262.68L357.31,264.80ZM357.06,264.80L357.34,263.86L357.94,263.86L358.23,264.80ZM358.49,264.80L358.67,262.64L359.27,262.64L359.45,264.80ZM359.38,264.80L359.63,263.25L360.23,263.25L360.49,264.80ZM360.53,264.80L360.70,263.84L361.30,263.84L361.47,264.80ZM362.34,264.80L362.47,262.43L363.07,262.43L363.19,264.80ZM363.48,264.80L363.59,263.81L364.19,263.81L364.30,264.80ZM364.99,264.80L365.21,263.68L365.81,263.68L366.02,264.80ZM366.45,264.80L366.70,263.97L367.30,263.97L367.55,264.80ZM367.59,264.80L367.72,263.42L368.32,263.42L368.44,264.80ZM368.35,264.80L368.50,263.14L369.10,263.14L369.25,264.80ZM370.11,264.80L370.27,261.04L370.87,261.04L371.03,264.80ZM372.02,264.80L372.20,263.56L372.80,263.56L372.98,264.80ZM373.75,264.80L373.87,262.58L374.47,262.58L374.59,264.80ZM375.51,264.80L375.66,263.56L376.26,263.56L376.41,264.80ZM377.10,264.80L377.25,263.32L377.85,263.32L378.01,264.80ZM378.28,264.80L378.50,263.52L379.10,263.52L379.32,264.80ZM379.44,264.80L379.62,261.95L380.22,261.95L380.39,264.80ZM380.73,264.80L380.93,260.57L381.53,260.57L381.72,264.80ZM382.21,264.80L382.34,260.95L382.94,260.95L383.08,264.80ZM383.12,264.80L383.38,260.78L383.98,260.78L384.25,264.80ZM384.45,264.80L384.70,263.83L385.30,263.83L385.55,264.80ZM386.16,264.80L386.45,263.82L387.05,263.82L387.34,264.80ZM387.96,264.80L388.14,263.17L388.74,263.17L388.92,264.80ZM388.84,264.80L389.13,264.03L389.73,264.03L390.03,264.80ZM397.30,264.80L398.00,247.80L398.60,247.80L399.30,264.80ZM403.30,264.80L404.00,246.40L404.60,246.40L405.30,264.80ZM405.70,264.80L406.30,248.30L406.90,248.30L407.50,264.80ZM400.60,264.80L400.90,262.80L401.50,262.80L401.80,264.80ZM395.00,264.80L395.20,263.60L395.80,263.60L396.00,264.80Z" fill="#8e3412"/>
<g stroke="#1a1a2e" stroke-width="0.7" fill="none"><line x1="391.5" y1="269.4" x2="406.6" y2="269.4"/><line x1="391.8" y1="256.3" x2="391.8" y2="272"/><line x1="398.3" y1="267" x2="398.3" y2="272"/><path d="M394.6,268.4 L395.6,269.4 L394.6,270.4 M401,268.4 L402,269.4 L401,270.4"/></g>
<rect x="403.8" y="267.5" width="3.2" height="3.8" fill="#111"/>
<text x="271.0" y="288.0" style="font-family:'Liberation Sans',sans-serif;font-weight:bold;font-size:11.2px" fill="#000" stroke="#000" stroke-width="0.35">C</text>
<g style="font-family:'Liberation Serif',serif;font-weight:bold;font-size:5.9px" fill="#1a1a1a" stroke="#1a1a1a" stroke-width="0.22" text-anchor="middle">
<text x="313.8" y="298.1">ETS (6.6E-125)</text>
<text x="313.8" y="304.4">FLI1/ERG</text>
<text x="373.0" y="298.1">GATA&#160; (1.6E-30)</text>
<text x="373.0" y="304.4">GATA2</text>
<text x="434.0" y="298.1">EBOX&#160; (4.8E-13)</text>
<text x="434.0" y="304.4">SCL/LYL1/LMO2</text>
<text x="492.8" y="298.1">RUNX&#160; (1.2E-05)</text>
<text x="492.8" y="304.4">RUNX1</text>
</g>
<path d="M282.1,309.2 H285.1 V328.3 H283.1" stroke="#777" stroke-width="0.55" fill="none"/><line x1="279.8" y1="318.8" x2="280.9" y2="318.8" stroke="#666" stroke-width="0.6"/><line x1="283.9" y1="318.8" x2="285.1" y2="318.8" stroke="#999" stroke-width="0.4"/>
<path transform="matrix(0.001247,0,0,-0.001923,287.375,328.200)" d="M461 53V0H20V53L172 80L629 1352H819L1294 80L1464 53V0H897V53L1077 80L944 467H416L281 80ZM676 1208 446 557H913Z" fill="#c23e56" stroke="#c23e56" stroke-width="0.45" vector-effect="non-scaling-stroke"/>
<path transform="matrix(0.004294,0,0,-0.007101,289.914,328.200)" d="M461 53V0H20V53L172 80L629 1352H819L1294 80L1464 53V0H897V53L1077 80L944 467H416L281 80ZM676 1208 446 557H913Z" fill="#c23e56" stroke="#c23e56" stroke-width="0.45" vector-effect="non-scaling-stroke"/>
<path transform="matrix(0.004057,0,0,-0.012936,297.159,327.941)" d="M1284 70Q1168 32 1043.0 6.0Q918 -20 774 -20Q448 -20 266.0 156.0Q84 332 84 655Q84 1007 260.5 1181.5Q437 1356 778 1356Q1022 1356 1249 1296V1008H1182L1155 1174Q1086 1223 989.5 1249.5Q893 1276 786 1276Q530 1276 411.5 1123.5Q293 971 293 657Q293 362 415.0 209.5Q537 57 776 57Q860 57 952.0 77.0Q1044 97 1092 125V506L920 532V586H1415V532L1284 506Z" fill="#ebc658" stroke="#ebc658" stroke-width="0.45" vector-effect="non-scaling-stroke"/>
<path transform="matrix(0.003982,0,0,-0.012936,302.866,327.941)" d="M1284 70Q1168 32 1043.0 6.0Q918 -20 774 -20Q448 -20 266.0 156.0Q84 332 84 655Q84 1007 260.5 1181.5Q437 1356 778 1356Q1022 1356 1249 1296V1008H1182L1155 1174Q1086 1223 989.5 1249.5Q893 1276 786 1276Q530 1276 411.5 1123.5Q293 971 293 657Q293 362 415.0 209.5Q537 57 776 57Q860 57 952.0 77.0Q1044 97 1092 125V506L920 532V586H1415V532L1284 506Z" fill="#ebc658" stroke="#ebc658" stroke-width="0.45" vector-effect="non-scaling-stroke"/>
<path transform="matrix(0.003532,0,0,-0.014127,308.729,328.200)" d="M461 53V0H20V53L172 80L629 1352H819L1294 80L1464 53V0H897V53L1077 80L944 467H416L281 80ZM676 1208 446 557H913Z" fill="#c23e56" stroke="#c23e56" stroke-width="0.45" vector-effect="non-scaling-stroke"/>
<path transform="matrix(0.003670,0,0,-0.012204,314.127,328.200)" d="M461 53V0H20V53L172 80L629 1352H819L1294 80L1464 53V0H897V53L1077 80L944 467H416L281 80ZM676 1208 446 557H913Z" fill="#c23e56" stroke="#c23e56" stroke-width="0.45" vector-effect="non-scaling-stroke"/>
<path transform="matrix(0.003463,0,0,-0.006509,319.731,328.200)" d="M461 53V0H20V53L172 80L629 1352H819L1294 80L1464 53V0H897V53L1077 80L944 467H416L281 80ZM676 1208 446 557H913Z" fill="#c23e56" stroke="#c23e56" stroke-width="0.45" vector-effect="non-scaling-stroke"/>
<path transform="matrix(0.005133,0,0,-0.011119,324.669,327.978)" d="M774 -20Q448 -20 266.0 157.5Q84 335 84 655Q84 1001 259.0 1178.5Q434 1356 778 1356Q987 1356 1227 1305L1233 1012H1167L1137 1186Q1067 1229 974.5 1252.5Q882 1276 786 1276Q529 1276 411.0 1125.0Q293 974 293 657Q293 365 416.5 211.0Q540 57 776 57Q890 57 991.0 84.5Q1092 112 1151 158L1188 358H1253L1247 43Q1027 -20 774 -20Z" fill="#3a3a92" stroke="#3a3a92" stroke-width="0.45" vector-effect="non-scaling-stroke"/>
<path transform="matrix(0.003255,0,0,-0.007618,331.035,328.200)" d="M461 53V0H20V53L172 80L629 1352H819L1294 80L1464 53V0H897V53L1077 80L944 467H416L281 80ZM676 1208 446 557H913Z" fill="#c23e56" stroke="#c23e56" stroke-width="0.45" vector-effect="non-scaling-stroke"/>
<path transform="matrix(0.003757,0,0,-0.004288,335.784,328.114)" d="M1284 70Q1168 32 1043.0 6.0Q918 -20 774 -20Q448 -20 266.0 156.0Q84 332 84 655Q84 1007 260.5 1181.5Q437 1356 778 1356Q1022 1356 1249 1296V1008H1182L1155 1174Q1086 1223 989.5 1249.5Q893 1276 786 1276Q530 1276 411.5 1123.5Q293 971 293 657Q293 362 415.0 209.5Q537 57 776 57Q860 57 952.0 77.0Q1044 97 1092 125V506L920 532V586H1415V532L1284 506Z" fill="#ebc658" stroke="#ebc658" stroke-width="0.45" vector-effect="non-scaling-stroke"/>
<path d="M350.6,308.8 H353.6 V328.2 H351.6" stroke="#777" stroke-width="0.55" fill="none"/><line x1="348.5" y1="318.8" x2="349.6" y2="318.8" stroke="#666" stroke-width="0.6"/><line x1="352.4" y1="318.8" x2="353.6" y2="318.8" stroke="#999" stroke-width="0.4"/>
<path transform="matrix(0.002395,0,0,-0.002689,354.399,325.446)" d="M774 -20Q448 -20 266.0 157.5Q84 335 84 655Q84 1001 259.0 1178.5Q434 1356 778 1356Q987 1356 1227 1305L1233 1012H1167L1137 1186Q1067 1229 974.5 1252.5Q882 1276 786 1276Q529 1276 411.0 1125.0Q293 974 293 657Q293 365 416.5 211.0Q540 57 776 57Q890 57 991.0 84.5Q1092 112 1151 158L1188 358H1253L1247 43Q1027 -20 774 -20Z" fill="#3a3a92" stroke="#3a3a92" stroke-width="0.45" vector-effect="non-scaling-stroke"/>
<path transform="matrix(0.001949,0,0,-0.002013,354.828,328.200)" d="M315 0V53L528 80V1255H477Q224 1255 131 1235L104 1026H37V1341H1217V1026H1149L1122 1235Q1092 1242 991.0 1247.5Q890 1253 770 1253H721V80L934 53V0Z" fill="#348c52" stroke="#348c52" stroke-width="0.45" vector-effect="non-scaling-stroke"/>
<path transform="matrix(0.002203,0,0,-0.004027,357.318,328.200)" d="M315 0V53L528 80V1255H477Q224 1255 131 1235L104 1026H37V1341H1217V1026H1149L1122 1235Q1092 1242 991.0 1247.5Q890 1253 770 1253H721V80L934 53V0Z" fill="#348c52" stroke="#348c52" stroke-width="0.45" vector-effect="non-scaling-stroke"/>
<path transform="matrix(0.002632,0,0,-0.005843,359.947,326.500)" d="M461 53V0H20V53L172 80L629 1352H819L1294 80L1464 53V0H897V53L1077 80L944 467H416L281 80ZM676 1208 446 557H913Z" fill="#c23e56" stroke="#c23e56" stroke-width="0.45" vector-effect="non-scaling-stroke"/>
<path transform="matrix(0.002542,0,0,-0.001342,360.306,328.300)" d="M315 0V53L528 80V1255H477Q224 1255 131 1235L104 1026H37V1341H1217V1026H1149L1122 1235Q1092 1242 991.0 1247.5Q890 1253 770 1253H721V80L934 53V0Z" fill="#348c52" stroke="#348c52" stroke-width="0.45" vector-effect="non-scaling-stroke"/>
<path transform="matrix(0.004433,0,0,-0.013445,363.828,328.031)" d="M1284 70Q1168 32 1043.0 6.0Q918 -20 774 -20Q448 -20 266.0 156.0Q84 332 84 655Q84 1007 260.5 1181.5Q437 1356 778 1356Q1022 1356 1249 1296V1008H1182L1155 1174Q1086 1223 989.5 1249.5Q893 1276 786 1276Q530 1276 411.5 1123.5Q293 971 293 657Q293 362 415.0 209.5Q537 57 776 57Q860 57 952.0 77.0Q1044 97 1092 125V506L920 532V586H1415V532L1284 506Z" fill="#ebc658" stroke="#ebc658" stroke-width="0.45" vector-effect="non-scaling-stroke"/>
<path transform="matrix(0.003186,0,0,-0.014645,370.336,328.300)" d="M461 53V0H20V53L172 80L629 1352H819L1294 80L1464 53V0H897V53L1077 80L944 467H416L281 80ZM676 1208 446 557H913Z" fill="#c23e56" stroke="#c23e56" stroke-width="0.45" vector-effect="non-scaling-stroke"/>
<path transform="matrix(0.004831,0,0,-0.013572,374.821,328.300)" d="M315 0V53L528 80V1255H477Q224 1255 131 1235L104 1026H37V1341H1217V1026H1149L1122 1235Q1092 1242 991.0 1247.5Q890 1253 770 1253H721V80L934 53V0Z" fill="#348c52" stroke="#348c52" stroke-width="0.45" vector-effect="non-scaling-stroke"/>
<path transform="matrix(0.003670,0,0,-0.014349,380.927,328.300)" d="M461 53V0H20V53L172 80L629 1352H819L1294 80L1464 53V0H897V53L1077 80L944 467H416L281 80ZM676 1208 446 557H913Z" fill="#c23e56" stroke="#c23e56" stroke-width="0.45" vector-effect="non-scaling-stroke"/>
<path transform="matrix(0.003740,0,0,-0.014349,385.825,328.300)" d="M461 53V0H20V53L172 80L629 1352H819L1294 80L1464 53V0H897V53L1077 80L944 467H416L281 80ZM676 1208 446 557H913Z" fill="#c23e56" stroke="#c23e56" stroke-width="0.45" vector-effect="non-scaling-stroke"/>
<path transform="matrix(0.002554,0,0,-0.002980,391.485,328.240)" d="M1284 70Q1168 32 1043.0 6.0Q918 -20 774 -20Q448 -20 266.0 156.0Q84 332 84 655Q84 1007 260.5 1181.5Q437 1356 778 1356Q1022 1356 1249 1296V1008H1182L1155 1174Q1086 1223 989.5 1249.5Q893 1276 786 1276Q530 1276 411.5 1123.5Q293 971 293 657Q293 362 415.0 209.5Q537 57 776 57Q860 57 952.0 77.0Q1044 97 1092 125V506L920 532V586H1415V532L1284 506Z" fill="#ebc658" stroke="#ebc658" stroke-width="0.45" vector-effect="non-scaling-stroke"/>
<path d="M404.5,308.8 H407.5 V327.5 H405.5" stroke="#777" stroke-width="0.55" fill="none"/><line x1="402.6" y1="318.8" x2="403.7" y2="318.8" stroke="#666" stroke-width="0.6"/><line x1="406.3" y1="318.8" x2="407.5" y2="318.8" stroke="#999" stroke-width="0.4"/>
<path transform="matrix(0.002481,0,0,-0.003416,408.392,328.132)" d="M774 -20Q448 -20 266.0 157.5Q84 335 84 655Q84 1001 259.0 1178.5Q434 1356 778 1356Q987 1356 1227 1305L1233 1012H1167L1137 1186Q1067 1229 974.5 1252.5Q882 1276 786 1276Q529 1276 411.0 1125.0Q293 974 293 657Q293 365 416.5 211.0Q540 57 776 57Q890 57 991.0 84.5Q1092 112 1151 158L1188 358H1253L1247 43Q1027 -20 774 -20Z" fill="#3a3a92" stroke="#3a3a92" stroke-width="0.45" vector-effect="non-scaling-stroke"/>
<path transform="matrix(0.002424,0,0,-0.004586,411.452,328.200)" d="M461 53V0H20V53L172 80L629 1352H819L1294 80L1464 53V0H897V53L1077 80L944 467H416L281 80ZM676 1208 446 557H913Z" fill="#c23e56" stroke="#c23e56" stroke-width="0.45" vector-effect="non-scaling-stroke"/>
<path transform="matrix(0.002424,0,0,-0.004956,414.952,328.200)" d="M461 53V0H20V53L172 80L629 1352H819L1294 80L1464 53V0H897V53L1077 80L944 467H416L281 80ZM676 1208 446 557H913Z" fill="#c23e56" stroke="#c23e56" stroke-width="0.45" vector-effect="non-scaling-stroke"/>
<path transform="matrix(0.002254,0,0,-0.004142,418.311,328.117)" d="M1284 70Q1168 32 1043.0 6.0Q918 -20 774 -20Q448 -20 266.0 156.0Q84 332 84 655Q84 1007 260.5 1181.5Q437 1356 778 1356Q1022 1356 1249 1296V1008H1182L1155 1174Q1086 1223 989.5 1249.5Q893 1276 786 1276Q530 1276 411.5 1123.5Q293 971 293 657Q293 362 415.0 209.5Q537 57 776 57Q860 57 952.0 77.0Q1044 97 1092 125V506L920 532V586H1415V532L1284 506Z" fill="#ebc658" stroke="#ebc658" stroke-width="0.45" vector-effect="non-scaling-stroke"/>
<path transform="matrix(0.002424,0,0,-0.005769,421.252,328.200)" d="M461 53V0H20V53L172 80L629 1352H819L1294 80L1464 53V0H897V53L1077 80L944 467H416L281 80ZM676 1208 446 557H913Z" fill="#c23e56" stroke="#c23e56" stroke-width="0.45" vector-effect="non-scaling-stroke"/>
<path transform="matrix(0.005133,0,0,-0.012064,424.569,327.959)" d="M774 -20Q448 -20 266.0 157.5Q84 335 84 655Q84 1001 259.0 1178.5Q434 1356 778 1356Q987 1356 1227 1305L1233 1012H1167L1137 1186Q1067 1229 974.5 1252.5Q882 1276 786 1276Q529 1276 411.0 1125.0Q293 974 293 657Q293 365 416.5 211.0Q540 57 776 57Q890 57 991.0 84.5Q1092 112 1151 158L1188 358H1253L1247 43Q1027 -20 774 -20Z" fill="#3a3a92" stroke="#3a3a92" stroke-width="0.45" vector-effect="non-scaling-stroke"/>
<path transform="matrix(0.003740,0,0,-0.012352,431.125,328.200)" d="M461 53V0H20V53L172 80L629 1352H819L1294 80L1464 53V0H897V53L1077 80L944 467H416L281 80ZM676 1208 446 557H913Z" fill="#c23e56" stroke="#c23e56" stroke-width="0.45" vector-effect="non-scaling-stroke"/>
<path transform="matrix(0.003156,0,0,-0.003488,436.535,323.930)" d="M1284 70Q1168 32 1043.0 6.0Q918 -20 774 -20Q448 -20 266.0 156.0Q84 332 84 655Q84 1007 260.5 1181.5Q437 1356 778 1356Q1022 1356 1249 1296V1008H1182L1155 1174Q1086 1223 989.5 1249.5Q893 1276 786 1276Q530 1276 411.5 1123.5Q293 971 293 657Q293 362 415.0 209.5Q537 57 776 57Q860 57 952.0 77.0Q1044 97 1092 125V506L920 532V586H1415V532L1284 506Z" fill="#ebc658" stroke="#ebc658" stroke-width="0.45" vector-effect="non-scaling-stroke"/>
<path transform="matrix(0.003220,0,0,-0.003132,437.081,328.200)" d="M315 0V53L528 80V1255H477Q224 1255 131 1235L104 1026H37V1341H1217V1026H1149L1122 1235Q1092 1242 991.0 1247.5Q890 1253 770 1253H721V80L934 53V0Z" fill="#348c52" stroke="#348c52" stroke-width="0.45" vector-effect="non-scaling-stroke"/>
<path transform="matrix(0.005389,0,0,-0.013590,441.647,327.928)" d="M774 -20Q448 -20 266.0 157.5Q84 335 84 655Q84 1001 259.0 1178.5Q434 1356 778 1356Q987 1356 1227 1305L1233 1012H1167L1137 1186Q1067 1229 974.5 1252.5Q882 1276 786 1276Q529 1276 411.0 1125.0Q293 974 293 657Q293 365 416.5 211.0Q540 57 776 57Q890 57 991.0 84.5Q1092 112 1151 158L1188 358H1253L1247 43Q1027 -20 774 -20Z" fill="#3a3a92" stroke="#3a3a92" stroke-width="0.45" vector-effect="non-scaling-stroke"/>
<path transform="matrix(0.004661,0,0,-0.011409,448.228,328.200)" d="M315 0V53L528 80V1255H477Q224 1255 131 1235L104 1026H37V1341H1217V1026H1149L1122 1235Q1092 1242 991.0 1247.5Q890 1253 770 1253H721V80L934 53V0Z" fill="#348c52" stroke="#348c52" stroke-width="0.45" vector-effect="non-scaling-stroke"/>
<path transform="matrix(0.004658,0,0,-0.013081,453.509,327.938)" d="M1284 70Q1168 32 1043.0 6.0Q918 -20 774 -20Q448 -20 266.0 156.0Q84 332 84 655Q84 1007 260.5 1181.5Q437 1356 778 1356Q1022 1356 1249 1296V1008H1182L1155 1174Q1086 1223 989.5 1249.5Q893 1276 786 1276Q530 1276 411.5 1123.5Q293 971 293 657Q293 362 415.0 209.5Q537 57 776 57Q860 57 952.0 77.0Q1044 97 1092 125V506L920 532V586H1415V532L1284 506Z" fill="#ebc658" stroke="#ebc658" stroke-width="0.45" vector-effect="non-scaling-stroke"/>
<path transform="matrix(0.002029,0,0,-0.003343,460.330,328.533)" d="M1284 70Q1168 32 1043.0 6.0Q918 -20 774 -20Q448 -20 266.0 156.0Q84 332 84 655Q84 1007 260.5 1181.5Q437 1356 778 1356Q1022 1356 1249 1296V1008H1182L1155 1174Q1086 1223 989.5 1249.5Q893 1276 786 1276Q530 1276 411.5 1123.5Q293 971 293 657Q293 362 415.0 209.5Q537 57 776 57Q860 57 952.0 77.0Q1044 97 1092 125V506L920 532V586H1415V532L1284 506Z" fill="#ebc658" stroke="#ebc658" stroke-width="0.45" vector-effect="non-scaling-stroke"/>
<line x1="470.4" y1="319.4" x2="471.7" y2="319.4" stroke="#666" stroke-width="0.6"/>
<path d="M473.2,309.1 H474.4 V328.9 H473.2" stroke="#999" stroke-width="0.5" fill="none"/>
<path transform="matrix(0.005254,0,0,-0.014169,475.006,328.900)" d="M315 0V53L528 80V1255H477Q224 1255 131 1235L104 1026H37V1341H1217V1026H1149L1122 1235Q1092 1242 991.0 1247.5Q890 1253 770 1253H721V80L934 53V0Z" fill="#348c52" stroke="#348c52" stroke-width="0.45" vector-effect="non-scaling-stroke"/>
<path transform="matrix(0.004433,0,0,-0.014099,481.028,328.618)" d="M1284 70Q1168 32 1043.0 6.0Q918 -20 774 -20Q448 -20 266.0 156.0Q84 332 84 655Q84 1007 260.5 1181.5Q437 1356 778 1356Q1022 1356 1249 1296V1008H1182L1155 1174Q1086 1223 989.5 1249.5Q893 1276 786 1276Q530 1276 411.5 1123.5Q293 971 293 657Q293 362 415.0 209.5Q537 57 776 57Q860 57 952.0 77.0Q1044 97 1092 125V506L920 532V586H1415V532L1284 506Z" fill="#ebc658" stroke="#ebc658" stroke-width="0.45" vector-effect="non-scaling-stroke"/>
<path transform="matrix(0.004915,0,0,-0.014169,487.118,328.900)" d="M315 0V53L528 80V1255H477Q224 1255 131 1235L104 1026H37V1341H1217V1026H1149L1122 1235Q1092 1242 991.0 1247.5Q890 1253 770 1253H721V80L934 53V0Z" fill="#348c52" stroke="#348c52" stroke-width="0.45" vector-effect="non-scaling-stroke"/>
<path transform="matrix(0.003005,0,0,-0.013808,492.748,328.624)" d="M1284 70Q1168 32 1043.0 6.0Q918 -20 774 -20Q448 -20 266.0 156.0Q84 332 84 655Q84 1007 260.5 1181.5Q437 1356 778 1356Q1022 1356 1249 1296V1008H1182L1155 1174Q1086 1223 989.5 1249.5Q893 1276 786 1276Q530 1276 411.5 1123.5Q293 971 293 657Q293 362 415.0 209.5Q537 57 776 57Q860 57 952.0 77.0Q1044 97 1092 125V506L920 532V586H1415V532L1284 506Z" fill="#ebc658" stroke="#ebc658" stroke-width="0.45" vector-effect="non-scaling-stroke"/>
<path transform="matrix(0.002179,0,0,-0.003706,496.417,322.926)" d="M1284 70Q1168 32 1043.0 6.0Q918 -20 774 -20Q448 -20 266.0 156.0Q84 332 84 655Q84 1007 260.5 1181.5Q437 1356 778 1356Q1022 1356 1249 1296V1008H1182L1155 1174Q1086 1223 989.5 1249.5Q893 1276 786 1276Q530 1276 411.5 1123.5Q293 971 293 657Q293 362 415.0 209.5Q537 57 776 57Q860 57 952.0 77.0Q1044 97 1092 125V506L920 532V586H1415V532L1284 506Z" fill="#ebc658" stroke="#ebc658" stroke-width="0.45" vector-effect="non-scaling-stroke"/>
<path transform="matrix(0.002797,0,0,-0.004400,498.097,328.900)" d="M315 0V53L528 80V1255H477Q224 1255 131 1235L104 1026H37V1341H1217V1026H1149L1122 1235Q1092 1242 991.0 1247.5Q890 1253 770 1253H721V80L934 53V0Z" fill="#348c52" stroke="#348c52" stroke-width="0.45" vector-effect="non-scaling-stroke"/>
<path transform="matrix(0.005593,0,0,-0.014467,502.093,328.900)" d="M315 0V53L528 80V1255H477Q224 1255 131 1235L104 1026H37V1341H1217V1026H1149L1122 1235Q1092 1242 991.0 1247.5Q890 1253 770 1253H721V80L934 53V0Z" fill="#348c52" stroke="#348c52" stroke-width="0.45" vector-effect="non-scaling-stroke"/>
<path transform="matrix(0.002542,0,0,-0.005742,509.106,325.300)" d="M315 0V53L528 80V1255H477Q224 1255 131 1235L104 1026H37V1341H1217V1026H1149L1122 1235Q1092 1242 991.0 1247.5Q890 1253 770 1253H721V80L934 53V0Z" fill="#348c52" stroke="#348c52" stroke-width="0.45" vector-effect="non-scaling-stroke"/>
<path transform="matrix(0.003422,0,0,-0.002689,508.213,328.946)" d="M774 -20Q448 -20 266.0 157.5Q84 335 84 655Q84 1001 259.0 1178.5Q434 1356 778 1356Q987 1356 1227 1305L1233 1012H1167L1137 1186Q1067 1229 974.5 1252.5Q882 1276 786 1276Q529 1276 411.0 1125.0Q293 974 293 657Q293 365 416.5 211.0Q540 57 776 57Q890 57 991.0 84.5Q1092 112 1151 158L1188 358H1253L1247 43Q1027 -20 774 -20Z" fill="#3a3a92" stroke="#3a3a92" stroke-width="0.45" vector-effect="non-scaling-stroke"/>
<path transform="matrix(0.001503,0,0,-0.003779,513.174,328.124)" d="M1284 70Q1168 32 1043.0 6.0Q918 -20 774 -20Q448 -20 266.0 156.0Q84 332 84 655Q84 1007 260.5 1181.5Q437 1356 778 1356Q1022 1356 1249 1296V1008H1182L1155 1174Q1086 1223 989.5 1249.5Q893 1276 786 1276Q530 1276 411.5 1123.5Q293 971 293 657Q293 362 415.0 209.5Q537 57 776 57Q860 57 952.0 77.0Q1044 97 1092 125V506L920 532V586H1415V532L1284 506Z" fill="#ebc658" stroke="#ebc658" stroke-width="0.45" vector-effect="non-scaling-stroke"/>
<path transform="matrix(0.001385,0,0,-0.003476,514.972,328.200)" d="M461 53V0H20V53L172 80L629 1352H819L1294 80L1464 53V0H897V53L1077 80L944 467H416L281 80ZM676 1208 446 557H913Z" fill="#c23e56" stroke="#c23e56" stroke-width="0.45" vector-effect="non-scaling-stroke"/>
</svg>
</body></html>
